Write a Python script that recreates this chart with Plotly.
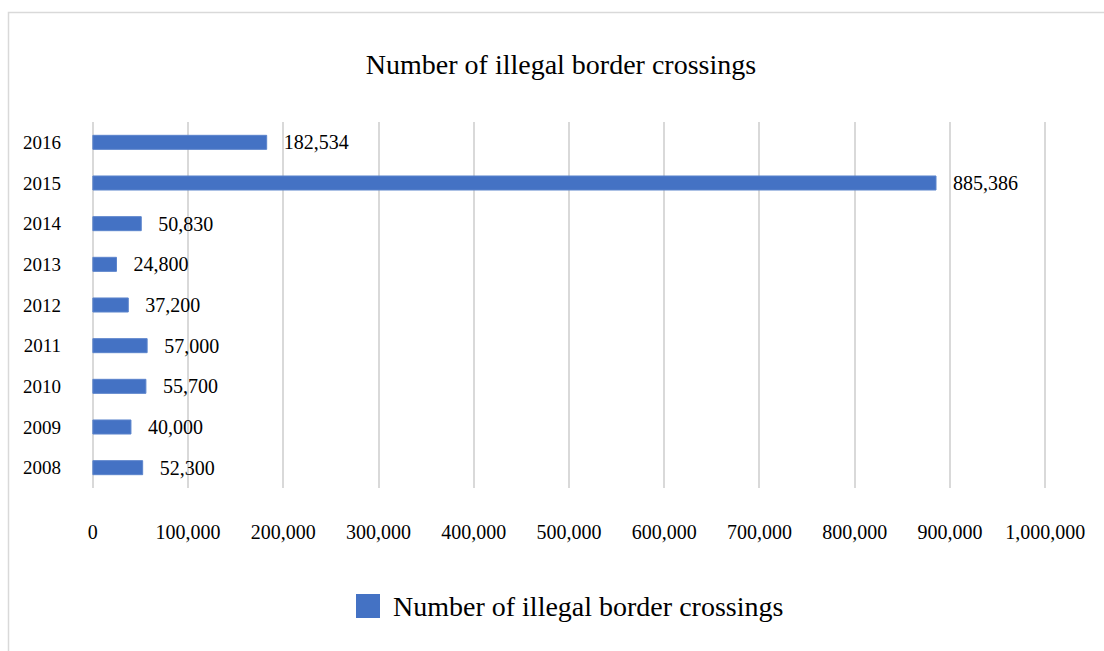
import plotly.graph_objects as go

years = ["2008", "2009", "2010", "2011", "2012", "2013", "2014", "2015", "2016"]
crossings = [52300, 40000, 55700, 57000, 37200, 24800, 50830, 885386, 182534]
x_ticks = [0, 100000, 200000, 300000, 400000, 500000, 600000, 700000, 800000, 900000, 1000000]
series_name = "Number of illegal border crossings"

BLUE = "#4472C4"
FONT = "Liberation Serif, Times New Roman, serif"

W, H = 1104, 651
L, R, T, B = 90, 56, 122, 163
pw, ph = W - L - R, H - T - B

def px(x):
    return (x - L) / pw

def py(y):
    return 1 - (y - T) / ph

fig = go.Figure()
fig.add_trace(go.Bar(
    y=years, x=crossings, orientation="h",
    marker=dict(color=BLUE, line=dict(color="#5b84cc", width=1)),
    width=0.345,
    text=[f"\u00a0\u00a0\u2009{v:,}" for v in crossings],
    textposition="outside",
    constraintext="none",
    textfont=dict(family=FONT, size=20, color="#000000"),
    cliponaxis=False,
    showlegend=False,
    name=series_name,
))

fig.update_layout(
    width=W, height=H,
    margin=dict(l=L, r=R, t=T, b=B, autoexpand=False),
    paper_bgcolor="white", plot_bgcolor="white",
    font=dict(family=FONT, size=20, color="#000000"),
    title=dict(text=series_name, x=px(561), xref="paper", xanchor="center",
               y=1 - 64 / H, yref="container", yanchor="middle",
               font=dict(family=FONT, size=28, color="#000000")),
    showlegend=False,
    xaxis=dict(range=[-3000, 1003000], tickvals=x_ticks,
               ticktext=[f"{v:,}" for v in x_ticks],
               showgrid=True, gridcolor="#d9d9d9", gridwidth=1.5,
               zeroline=False, showline=False, ticks="",
               ticklabelstandoff=30,
               tickfont=dict(family=FONT, size=20, color="#000000")),
    yaxis=dict(categoryorder="array", categoryarray=years, range=[-0.5, 8.5],
               showgrid=False, zeroline=False, showline=False, ticks="",
               ticklabelstandoff=28,
               tickfont=dict(family=FONT, size=19, color="#000000")),
    shapes=[
        dict(type="rect", xref="paper", yref="paper",
             x0=px(8.5), x1=px(1200), y0=py(700), y1=py(12.5),
             line=dict(color="#d9d9d9", width=1.5), fillcolor="rgba(0,0,0,0)",
             layer="below"),
        dict(type="rect", xref="paper", yref="paper",
             x0=px(356), x1=px(380), y0=py(618), y1=py(594),
             line=dict(width=0), fillcolor=BLUE),
    ],
    annotations=[
        dict(text=series_name, xref="paper", yref="paper",
             x=px(391), y=py(606), xanchor="left", yanchor="middle",
             showarrow=False, font=dict(family=FONT, size=28, color="#000000")),
    ],
)

fig.write_html("out.html", config={"displayModeBar": False},
               post_script="document.body.style.margin='0';")
